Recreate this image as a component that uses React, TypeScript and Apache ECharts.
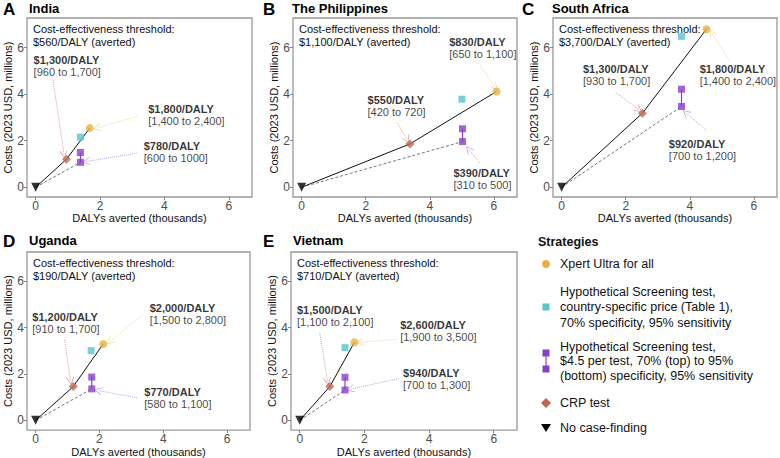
import React, { useEffect, useRef } from "react";
import * as echarts from "echarts";

const FONT = "'Liberation Sans', Arial, Helvetica, sans-serif";

// ---- data ----
const panelLetters = ["A", "B", "C", "D", "E"];
const panelNames = ["India", "The Philippines", "South Africa", "Uganda", "Vietnam"];
const thresholds = ["$560/DALY (averted)", "$1,100/DALY (averted)", "$3,700/DALY (averted)", "$190/DALY (averted)", "$710/DALY (averted)"];

const xpertX = [1.68, 6.08, 4.52, 2.12, 1.69];
const xpertY = [2.54, 4.11, 6.79, 3.3, 3.37];
const countryTestX = [1.39, 5.0, 3.74, 1.74, 1.4];
const countryTestY = [2.15, 3.78, 6.48, 3.01, 3.14];
const hypX = [1.39, 5.02, 3.74, 1.76, 1.4];
const hypTopY = [1.49, 2.51, 4.21, 1.87, 1.86];
const hypBottomY = [1.07, 1.96, 3.47, 1.36, 1.31];
const crpX = [0.955, 3.38, 2.52, 1.18, 0.93];
const crpY = [1.2, 1.86, 3.18, 1.46, 1.46];

const xpertIcer = ["$1,800/DALY", "$830/DALY", "$1,800/DALY", "$2,000/DALY", "$2,600/DALY"];
const xpertCI = ["[1,400 to 2,400]", "[650 to 1,100]", "[1,400 to 2,400]", "[1,500 to 2,800]", "[1,900 to 3,500]"];
const crpIcer = ["$1,300/DALY", "$550/DALY", "$1,300/DALY", "$1,200/DALY", "$1,500/DALY"];
const crpCI = ["[960 to 1,700]", "[420 to 720]", "[930 to 1,700]", "[910 to 1,700]", "[1,100 to 2,100]"];
const hypIcer = ["$780/DALY", "$390/DALY", "$920/DALY", "$770/DALY", "$940/DALY"];
const hypCI = ["[600 to 1000]", "[310 to 500]", "[700 to 1,200]", "[580 to 1,100]", "[700 to 1,300]"];

// annotation anchors (data units): [x left, y middle]
const xpertLabelPos = [[3.48, 3.09], [4.59, 5.99], [4.29, 4.81], [3.56, 4.6], [3.09, 3.87]];
const crpLabelPos = [[-0.08, 5.21], [2.04, 3.49], [0.65, 4.81], [-0.12, 4.21], [-0.1, 4.51]];
const hypLabelPos = [[3.34, 1.52], [4.72, 0.37], [3.33, 1.59], [3.39, 0.96], [3.18, 1.8]];

// arrows (data units): [[x1,y1],[x2,y2]]
const xpertArrows = [[[3.14, 3.04], [1.89, 2.54]], [[5.52, 5.33], [6.03, 4.3]], [[5.22, 5.47], [4.68, 6.62]], [[3.35, 4.54], [2.32, 3.4]], [[2.99, 3.49], [1.85, 3.37]]];
const crpArrows = [[[0.54, 4.61], [0.88, 1.39]], [[2.99, 2.75], [3.3, 2.03]], [[1.69, 4.07], [2.42, 3.32]], [[0.91, 3.47], [1.1, 1.69]], [[0.62, 3.77], [0.86, 1.67]]];
const hypArrows = [[[3.14, 1.46], [1.56, 1.1]], [[5.57, 1.03], [5.21, 1.63]], [[4.5, 2.46], [3.87, 3.21]], [[3.18, 0.97], [1.95, 1.29]], [[3.07, 1.81], [1.56, 1.34]]];

const xTicks = [0, 2, 4, 6];
const yTicks = [0, 2, 4, 6];

// ---- styles / layout ----
const C_XPERT = "#E8B13F";
const C_CYAN = "#57C6CA";
const C_PURPLE = "#8A3FCC";
const C_CRP = "#C1664C";

const grids = [
  { left: 27, top: 18, width: 225, height: 179 },
  { left: 293, top: 18, width: 224, height: 179 },
  { left: 553, top: 18, width: 224, height: 179 },
  { left: 27, top: 252, width: 223, height: 179 },
  { left: 291, top: 252, width: 226, height: 179 },
];
const titleLetterPos = [[3, 1], [263, 1], [522, 1], [3, 233], [263, 233]];
const titleNamePos = [[29, 2], [292, 2], [552, 2], [29, 234], [293, 234]];

const ARROW = "path://M0,0L6,12L4.8,12L0,2.4L-4.8,12L-6,12Z";

function buildOption() {
  const xAxis: any[] = [];
  const yAxis: any[] = [];
  const series: any[] = [];
  const title: any[] = [];
  const graphic: any[] = [];

  grids.forEach((g, i) => {
    xAxis.push({
      gridIndex: i,
      type: "value",
      min: -0.27,
      max: 6.72,
      name: "DALYs averted (thousands)",
      nameLocation: "middle",
      nameGap: 15,
      nameTextStyle: { fontSize: 11, color: "#111", fontFamily: FONT },
      axisLine: { show: false, onZero: false },
      axisTick: { show: true, length: 3, lineStyle: { color: "#888" }, customValues: xTicks },
      axisLabel: { fontSize: 12, color: "#4d4d4d", margin: 3, customValues: xTicks, fontFamily: FONT },
      splitLine: { show: false },
    });
    yAxis.push({
      gridIndex: i,
      type: "value",
      min: -0.42,
      max: 7.27,
      name: "Costs (2023 USD, millions)",
      nameLocation: "middle",
      nameGap: 14,
      nameTextStyle: { fontSize: 11, color: "#111", fontFamily: FONT },
      axisLine: { show: false, onZero: false },
      axisTick: { show: true, length: 3, lineStyle: { color: "#888" }, customValues: yTicks },
      axisLabel: { fontSize: 12, color: "#4d4d4d", margin: 3, customValues: yTicks, fontFamily: FONT },
      splitLine: { show: false },
    });

    title.push({
      text: panelLetters[i],
      left: titleLetterPos[i][0],
      top: titleLetterPos[i][1],
      padding: 0,
      textStyle: { fontSize: 17, fontWeight: "bold", color: "#000", fontFamily: FONT },
    });
    title.push({
      text: panelNames[i],
      left: titleNamePos[i][0],
      top: titleNamePos[i][1],
      padding: 0,
      textStyle: { fontSize: 13, fontWeight: "bold", color: "#000", fontFamily: FONT },
    });

    graphic.push({
      type: "text",
      x: g.left + 6,
      y: g.top + 4,
      z: 0,
      style: {
        text: "Cost-effectiveness threshold:\n" + thresholds[i],
        fontSize: 11,
        lineHeight: 13.5,
        fill: "#111",
        fontFamily: FONT,
      },
    });

    const ax = { xAxisIndex: i, yAxisIndex: i };
    series.push({
      type: "line",
      ...ax,
      data: [[0, 0], [crpX[i], crpY[i]], [xpertX[i], xpertY[i]]],
      showSymbol: false,
      symbol: "none",
      lineStyle: { color: "#111", width: 1 },
      z: 2,
      silent: true,
    });
    series.push({
      type: "line",
      ...ax,
      data: [[0, 0], [hypX[i], hypBottomY[i]]],
      symbol: "none",
      lineStyle: { color: "#666", width: 0.9, type: [3, 2] },
      z: 2,
      silent: true,
    });
    series.push({
      type: "line",
      ...ax,
      data: [[hypX[i], hypTopY[i]], [hypX[i], hypBottomY[i]]],
      symbol: "none",
      lineStyle: { color: C_PURPLE, width: 1.2 },
      z: 2,
      silent: true,
    });
    series.push({
      type: "lines",
      coordinateSystem: "cartesian2d",
      ...ax,
      symbol: ["none", ARROW],
      symbolSize: 8,
      z: 3,
      silent: true,
      data: [
        { coords: xpertArrows[i], lineStyle: { color: C_XPERT, type: "dotted", width: 1 } },
        { coords: crpArrows[i], lineStyle: { color: "#B5413A", type: "dotted", width: 1 } },
        { coords: hypArrows[i], lineStyle: { color: "#7A45C8", type: "dotted", width: 1 } },
      ],
    });
    series.push({
      type: "scatter",
      ...ax,
      symbol: "rect",
      symbolSize: 7,
      itemStyle: { color: C_CYAN },
      data: [[countryTestX[i], countryTestY[i]]],
      z: 4,
      silent: true,
    });
    series.push({
      type: "scatter",
      ...ax,
      symbol: "rect",
      symbolSize: 7,
      itemStyle: { color: C_PURPLE },
      data: [[hypX[i], hypTopY[i]], [hypX[i], hypBottomY[i]]],
      z: 4,
      silent: true,
    });
    series.push({
      type: "scatter",
      ...ax,
      symbol: "diamond",
      symbolSize: 9,
      itemStyle: { color: C_CRP },
      data: [[crpX[i], crpY[i]]],
      z: 4,
      silent: true,
    });
    series.push({
      type: "scatter",
      ...ax,
      symbol: "circle",
      symbolSize: 8,
      itemStyle: { color: C_XPERT },
      data: [[xpertX[i], xpertY[i]]],
      z: 4,
      silent: true,
    });
    series.push({
      type: "scatter",
      ...ax,
      symbol: "triangle",
      symbolRotate: 180,
      symbolSize: 9,
      itemStyle: { color: "#000" },
      data: [[0, 0]],
      z: 5,
      silent: true,
    });
    const rich = {
      b: { fontSize: 11, fontWeight: "bold", lineHeight: 12, color: "#000", fontFamily: FONT },
      n: { fontSize: 11, lineHeight: 12, color: "#111", fontFamily: FONT },
    };
    const mk = (pos: number[], a: string, b: string) => ({
      value: pos,
      label: { formatter: `{b|${a}}\n{n|${b}}` },
    });
    series.push({
      type: "scatter",
      ...ax,
      symbolSize: 1,
      itemStyle: { color: "rgba(0,0,0,0)" },
      z: 6,
      silent: true,
      label: { show: true, position: "right", distance: 0, rich },
      data: [
        mk(xpertLabelPos[i], xpertIcer[i], xpertCI[i]),
        mk(crpLabelPos[i], crpIcer[i], crpCI[i]),
        mk(hypLabelPos[i], hypIcer[i], hypCI[i]),
      ],
    });
  });

  const LX = 546;
  const TX = 560;
  const lt = (y: number, text: string, lh = 15) => ({
    type: "text",
    x: TX,
    y,
    style: { text, fontSize: 12.5, lineHeight: lh, fill: "#111", fontFamily: FONT, verticalAlign: "middle" },
  });
  graphic.push(
    {
      type: "text",
      x: 538,
      y: 242,
      style: { text: "Strategies", fontSize: 12.5, fontWeight: "bold", fill: "#111", fontFamily: FONT, verticalAlign: "middle" },
    },
    { type: "circle", shape: { cx: LX, cy: 264, r: 4 }, style: { fill: C_XPERT } },
    lt(264, "Xpert Ultra for all"),
    { type: "rect", shape: { x: LX - 3.5, y: 307 - 3.5, width: 7, height: 7 }, style: { fill: C_CYAN } },
    lt(307, "Hypothetical Screening test,\ncountry-specific price (Table 1),\n70% specificity, 95% sensitivity", 15.5),
    { type: "line", shape: { x1: LX, y1: 353, x2: LX, y2: 369 }, style: { stroke: C_PURPLE, lineWidth: 1.2 } },
    { type: "rect", shape: { x: LX - 3.5, y: 353 - 3.5, width: 7, height: 7 }, style: { fill: C_PURPLE } },
    { type: "rect", shape: { x: LX - 3.5, y: 369 - 3.5, width: 7, height: 7 }, style: { fill: C_PURPLE } },
    lt(361, "Hypothetical Screening test,\n$4.5 per test, 70% (top) to 95%\n(bottom) specificity, 95% sensitivity", 14.5),
    { type: "polygon", shape: { points: [[LX, 398], [LX + 5, 403], [LX, 408], [LX - 5, 403]] }, style: { fill: C_CRP } },
    lt(403, "CRP test"),
    { type: "polygon", shape: { points: [[LX - 5, 424], [LX + 5, 424], [LX, 432]] }, style: { fill: "#000" } },
    lt(428, "No case-finding")
  );

  return {
    animation: false,
    backgroundColor: "#fff",
    textStyle: { fontFamily: FONT },
    title,
    grid: grids.map((g) => ({ ...g, show: true, borderColor: "#999", borderWidth: 1.3, backgroundColor: "transparent", containLabel: false })),
    xAxis,
    yAxis,
    series,
    graphic,
  };
}

export default function App() {
  const ref = useRef<HTMLDivElement>(null);
  useEffect(() => {
    if (!ref.current) return;
    const chart = echarts.init(ref.current, undefined, { renderer: "svg" });
    chart.setOption(buildOption() as any);
    return () => chart.dispose();
  }, []);
  return <div ref={ref} style={{ position: "fixed", left: 0, top: 0, width: 780, height: 458 }} />;
}
